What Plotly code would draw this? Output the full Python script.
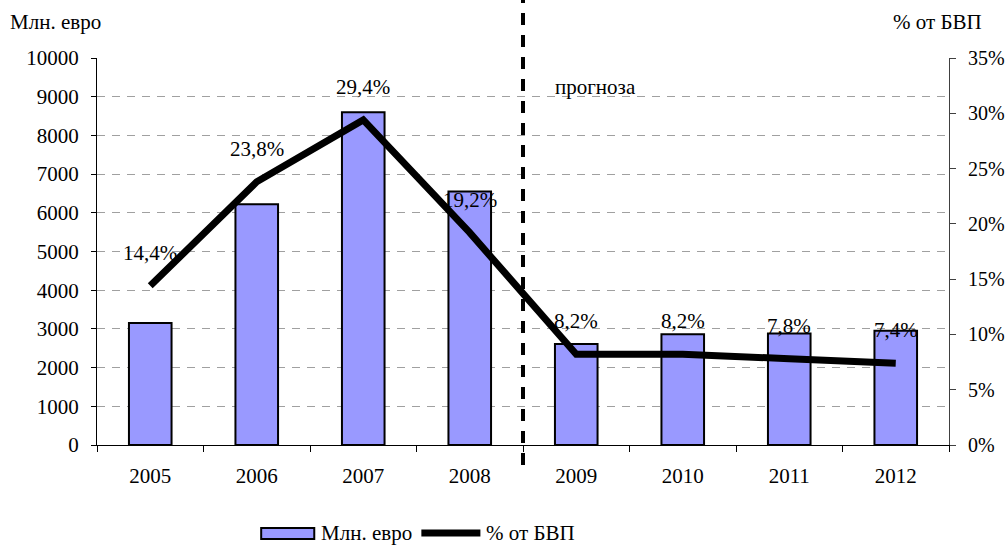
import plotly.graph_objects as go

years = ["2005", "2006", "2007", "2008", "2009", "2010", "2011", "2012"]
mln_euro = [3150, 6220, 8600, 6550, 2610, 2860, 2880, 2950]
pct_gdp = [14.4, 23.8, 29.4, 19.2, 8.2, 8.2, 7.8, 7.4]
pct_labels = [f"{v:.1f}".replace(".", ",") + "%" for v in pct_gdp]
bar_name = "Млн. евро"
line_name = "% от БВП"

FONT = "Liberation Serif, Times New Roman, serif"
FS = 21
BAR_COLOR = "#9999FF"

fig = go.Figure()
fig.add_trace(go.Bar(
    x=years, y=mln_euro, name=bar_name, width=0.4,
    marker=dict(color=BAR_COLOR, line=dict(color="black", width=2)),
))
fig.add_trace(go.Scatter(
    x=years, y=pct_gdp, name=line_name, mode="lines", yaxis="y2",
    line=dict(color="black", width=7),
))

txtfont = dict(family=FONT, size=FS, color="black")
for i, (v, t) in enumerate(zip(pct_gdp, pct_labels)):
    fig.add_annotation(x=i, y=v, xref="x", yref="y2", text=t, showarrow=False,
                       yshift=33, font=txtfont)

# axis titles and forecast note
fig.add_annotation(xref="paper", yref="paper", x=-0.1046, y=1.093, xanchor="left",
                   yanchor="middle", text=bar_name, showarrow=False, font=txtfont)
fig.add_annotation(xref="paper", yref="paper", x=1.041, y=1.093, xanchor="right",
                   yanchor="middle", text=line_name, showarrow=False, font=txtfont)
fig.add_annotation(xref="paper", yref="paper", x=0.5347, y=0.925, xanchor="left",
                   yanchor="middle", text="прогноза", showarrow=False, font=txtfont)

# forecast divider
fig.add_shape(type="line", xref="x", yref="paper", x0=3.5, x1=3.5, y0=-0.052, y1=1.15,
              line=dict(color="black", width=4, dash="12px,10px"))

# custom legend
fig.add_shape(type="rect", xref="paper", yref="paper", x0=0.1927, x1=0.255,
              y0=-0.2429, y1=-0.2145, fillcolor=BAR_COLOR,
              line=dict(color="black", width=2))
fig.add_annotation(xref="paper", yref="paper", x=0.2609, y=-0.2274, xanchor="left",
                   yanchor="middle", text=bar_name, showarrow=False, font=txtfont)
fig.add_shape(type="line", xref="paper", yref="paper", x0=0.3807, x1=0.450,
              y0=-0.2274, y1=-0.2274, line=dict(color="black", width=7))
fig.add_annotation(xref="paper", yref="paper", x=0.4548, y=-0.2274, xanchor="left",
                   yanchor="middle", text=line_name, showarrow=False, font=txtfont)

fig.update_layout(
    width=1008, height=545,
    margin=dict(l=97, r=59, t=58, b=100, autoexpand=False),
    paper_bgcolor="white", plot_bgcolor="white",
    font=txtfont,
    showlegend=False,
    xaxis=dict(type="category", range=[-0.5, 7.5], autorange=False, automargin=False,
               showline=True, linecolor="black", linewidth=1,
               ticks="outside", tickson="boundaries", ticklen=6, tickcolor="black",
               showgrid=False, ticklabelstandoff=12, tickangle=0),
    yaxis=dict(range=[0, 10000], dtick=1000, tickformat="d", showline=True,
               automargin=False,
               linecolor="black", linewidth=1, ticks="outside", ticklen=5,
               tickcolor="black", showgrid=True, gridcolor="#A0A0A0",
               griddash="8px,7px", gridwidth=1, zeroline=False, ticklabelstandoff=8),
    yaxis2=dict(range=[0, 35], dtick=5, ticksuffix="%", overlaying="y", side="right",
                automargin=False, tickfont=dict(family=FONT, size=20, color="black"),
                showline=True, linecolor="#404040", linewidth=1, ticks="outside",
                ticklen=6, tickcolor="#404040", showgrid=False, zeroline=False,
                ticklabelstandoff=8),
)

fig.write_html("out.html")
